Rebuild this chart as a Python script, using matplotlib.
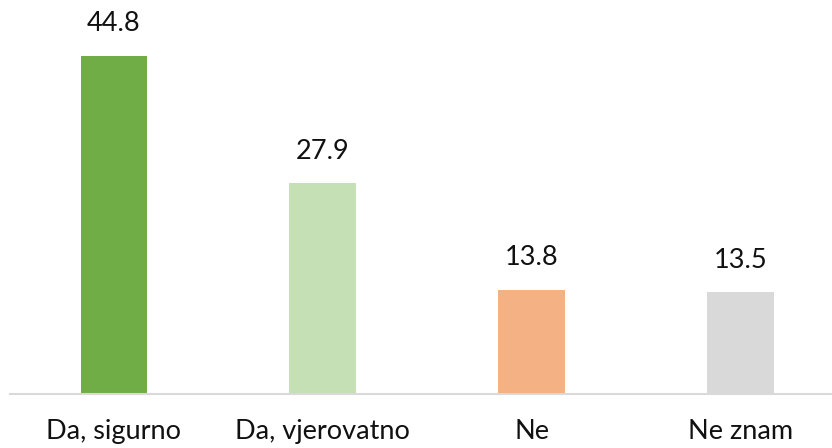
import matplotlib.pyplot as plt
import numpy as np

categories = ["Da, sigurno", "Da, vjerovatno", "Ne", "Ne znam"]
values = [44.8, 27.9, 13.8, 13.5]
colors = ["#70AD47", "#C5E0B4", "#F4B183", "#D9D9D9"]

plt.rcParams['font.family'] = ['Lato', 'DejaVu Sans']

fig = plt.figure(figsize=(8.32, 4.48), dpi=100)
ax = fig.add_axes([9.6 / 832, 54 / 448, 822.4 / 832, 394 / 448])

x = np.arange(len(categories))
bars = ax.bar(x, values, width=0.32, color=colors)

ax.set_xlim(-0.5, 3.439)
ax.set_ylim(0, 52.2)

for xi, v in zip(x, values):
    ax.annotate(f"{v:.1f}", (xi, v), xytext=(0, 23), textcoords="offset points",
                ha="center", va="center", fontsize=19.5, color="#111111")

ax.set_xticks(x)
ax.set_xticklabels(categories, fontsize=19.5, color="#111111")
ax.tick_params(axis="x", length=0, pad=18)
ax.set_yticks([])

for s in ["top", "right", "left"]:
    ax.spines[s].set_visible(False)
ax.spines["bottom"].set_color("#D9D9D9")
ax.spines["bottom"].set_linewidth(1.5)

fig.savefig("out.png", dpi=100)
